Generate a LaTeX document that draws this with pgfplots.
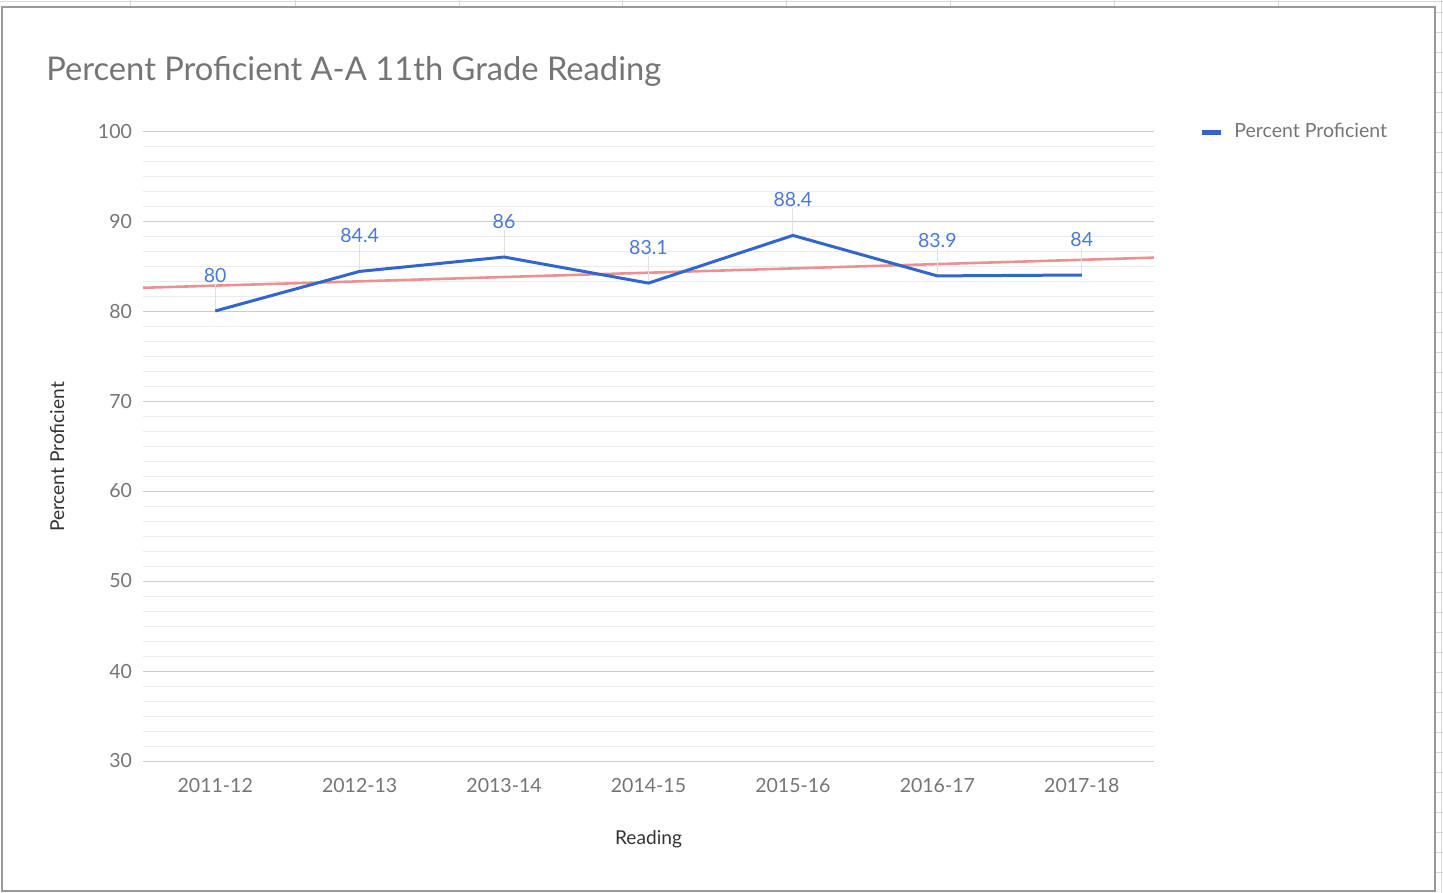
\documentclass[border=0pt]{standalone}
\usepackage{fontspec}
\setmainfont{Lato}
\usepackage{pgfplots}
\pgfplotsset{compat=1.18}

\definecolor{gsblue}{HTML}{3366CC}
\definecolor{lblblue}{HTML}{4A78D6}
\definecolor{trendred}{HTML}{EA9191}
\definecolor{txtgray}{HTML}{757575}
\definecolor{lblgray}{HTML}{333333}
\definecolor{cellgray}{HTML}{D9D9D9}

\begin{document}
\begin{tikzpicture}
\useasboundingbox (0,0) rectangle (721.5bp,446.5bp);
% spreadsheet cells round the chart
\draw[cellgray, line width=0.5bp] (0,445.5bp) -- (721.5bp,445.5bp);
\foreach \xx in {65,147.5,229.5,311,393,475,557,639}
  \draw[cellgray, line width=0.5bp] (\xx bp,443bp) -- (\xx bp,446.5bp);
\foreach \yy in {10,20,...,440}
  \draw[cellgray, line width=0.5bp] (717.5bp,\yy bp) -- (721.5bp,\yy bp);
\draw[cellgray, line width=0.5bp] (720.5bp,0) -- (720.5bp,446.5bp);
% chart frame
\draw[black!40, line width=0.8bp] (1bp,1bp) rectangle (717.5bp,443bp);

\node[anchor=base west, text=txtgray, font=\fontsize{16.4}{18}\selectfont, inner sep=0]
  at (23bp,406bp) {Percent Proficient A-A 11th Grade Reading};

\begin{axis}[
  at={(71.5bp,66bp)}, anchor=south west,
  scale only axis, width=505.5bp, height=315bp,
  xmin=-0.5, xmax=6.5, ymin=30, ymax=100,
  xtick={0,...,6},
  xticklabels={2011-12,2012-13,2013-14,2014-15,2015-16,2016-17,2017-18},
  ytick={30,40,...,100}, minor y tick num=5,
  ymajorgrids, yminorgrids,
  major grid style={black!20, line width=0.5bp},
  minor grid style={black!8, line width=0.5bp},
  extra y ticks={30}, extra y tick labels={},
  extra y tick style={grid style={black!35, line width=0.6bp}},
  major tick length=0pt, minor tick length=0pt,
  axis line style={draw=none},
  /pgf/number format/assume math mode=true,
  tick label style={font=\fontsize{9.8}{11}\selectfont, text=txtgray},
  yticklabel style={xshift=-2bp},
  xticklabel style={yshift=-5bp},
  xlabel={Reading}, ylabel={Percent Proficient},
  label style={font=\fontsize{9.6}{11}\selectfont, text=lblgray},
  xlabel style={at={(axis description cs:0.5,-0.124)}, anchor=center},
  ylabel style={at={(axis description cs:-0.085,0.4825)}, anchor=center},
  legend style={at={(axis description cs:1.045,0.998)}, anchor=west,
    draw=none, fill=none, font=\fontsize{9.8}{11}\selectfont, text=txtgray,
    inner xsep=0pt, inner ysep=0pt},
  legend image code/.code={\draw[line width=2.5bp] (0,0) -- (9.5bp,0);
    \path[draw=none] (0,0) -- (14bp,0);},
  legend cell align=left,
]
% trendline
\addplot[trendred, line width=1.3bp, forget plot] coordinates {(-0.5,82.58) (6.5,85.93)};
% label stems
\addplot[draw=none, mark=none, forget plot,
  error bars/.cd, y dir=plus, y explicit,
  error bar style={draw=black!12, line width=0.5bp}, error mark=none]
  coordinates {(0,80) +- (0,3) (1,84.4) +- (0,3) (2,86) +- (0,3) (3,83.1) +- (0,3)
               (4,88.4) +- (0,3) (5,83.9) +- (0,3) (6,84) +- (0,3)};
\addplot[gsblue, line width=1.5bp, mark=none,
  nodes near coords,
  nodes near coords style={font=\fontsize{9.8}{11}\selectfont, text=lblblue, anchor=south, yshift=10.2bp}]
  coordinates {(0,80) (1,84.4) (2,86) (3,83.1) (4,88.4) (5,83.9) (6,84)};
\addlegendentry{Percent Proficient}
\end{axis}
\end{tikzpicture}
\end{document}
